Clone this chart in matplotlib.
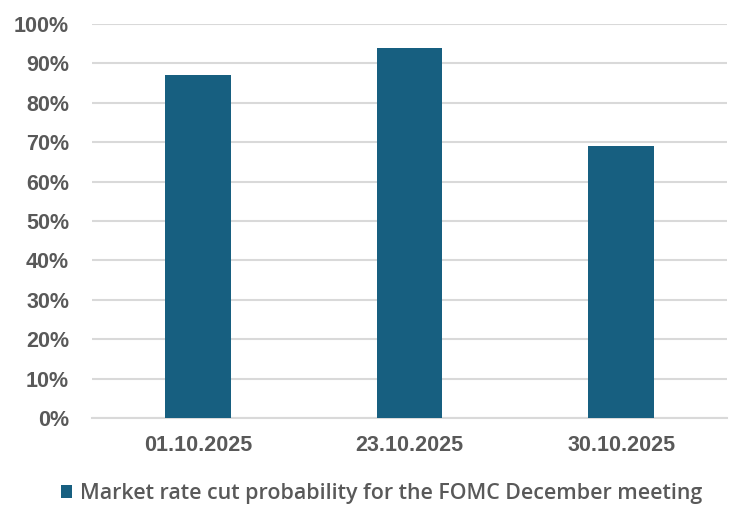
import matplotlib.pyplot as plt
from matplotlib.ticker import PercentFormatter

plt.rcParams['font.family'] = ['Liberation Sans', 'DejaVu Sans']

dates = ["01.10.2025", "23.10.2025", "30.10.2025"]
probability = [87, 94, 69]
series_name = "Market rate cut probability for the FOMC December meeting"

bar_color = "#175F80"
text_color = "#595959"
grid_color = "#D9D9D9"

fig = plt.figure(figsize=(7.52, 5.27), dpi=100)
ax = fig.add_axes([0.1223, 0.2068, 0.8445, 0.7477])

ax.bar(range(len(dates)), probability, width=0.31, color=bar_color,
       label=series_name, zorder=3)

ax.set_xlim(-0.5, len(dates) - 0.5)
ax.set_ylim(0, 100)
ax.set_yticks(range(0, 101, 10))
ax.yaxis.set_major_formatter(PercentFormatter(decimals=0))
ax.set_xticks(range(len(dates)))
ax.set_xticklabels(dates)

ax.grid(axis="y", color=grid_color, linewidth=1.5, zorder=0)
for side in ["top", "right", "left"]:
    ax.spines[side].set_visible(False)
ax.spines["bottom"].set_color(grid_color)
ax.spines["bottom"].set_linewidth(1.5)

ax.tick_params(axis="both", length=0, labelsize=15.5, labelcolor=text_color)
ax.tick_params(axis="y", pad=16.5)
ax.tick_params(axis="x", pad=12.5)
for lbl in ax.get_xticklabels() + ax.get_yticklabels():
    lbl.set_fontweight("bold")

leg = fig.legend(loc="center", bbox_to_anchor=(0.507, 0.064), frameon=False,
                 handlelength=0.55, handleheight=0.55, handletextpad=0.35,
                 prop={"family": "Open Sans", "size": 15.4, "weight": "semibold"})
for t in leg.get_texts():
    t.set_color(text_color)

fig.savefig("out.png", dpi=100)
